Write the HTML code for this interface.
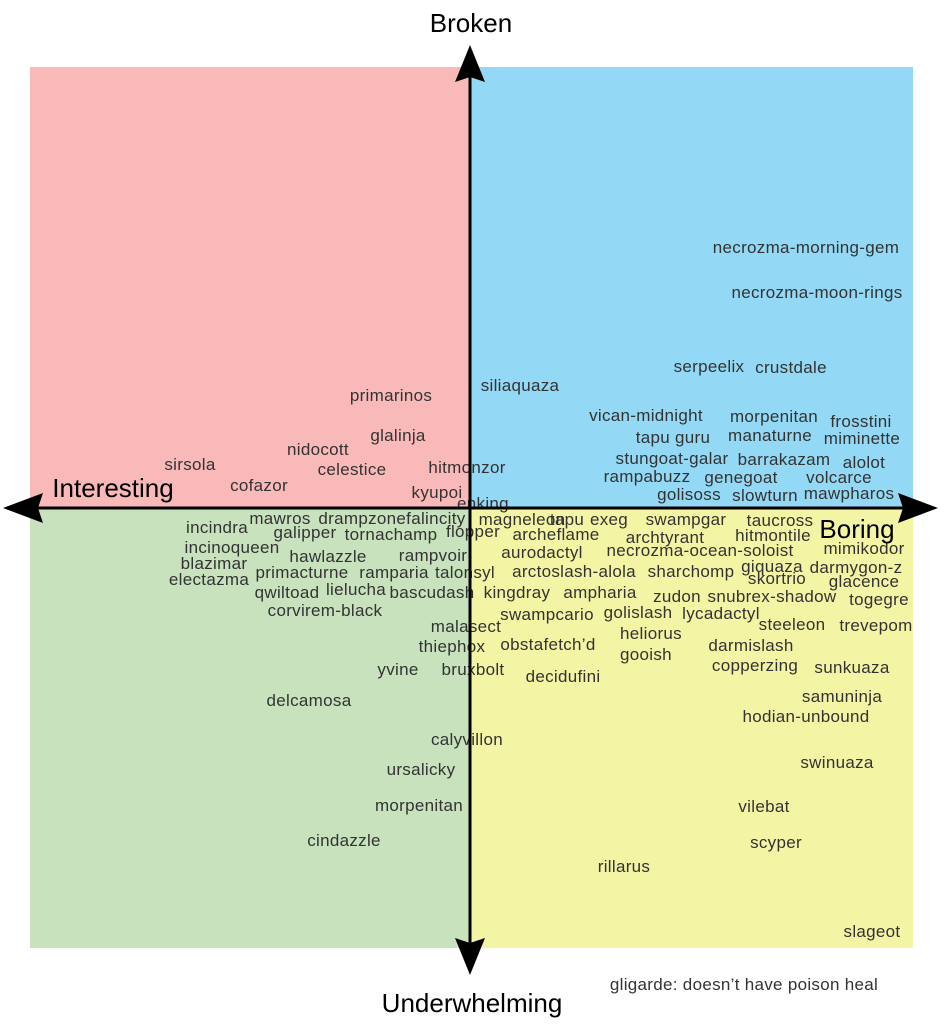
<!DOCTYPE html>
<html><head><meta charset="utf-8"><style>
html,body{margin:0;padding:0;background:#fff}
svg{display:block}
.l{font-family:"Liberation Sans",sans-serif;font-size:17px;fill:#333;text-anchor:middle;letter-spacing:0.3px}
.a{font-family:"Liberation Sans",sans-serif;font-size:26px;fill:#000;text-anchor:middle}
</style></head><body>
<svg width="941" height="1024" viewBox="0 0 941 1024" xmlns="http://www.w3.org/2000/svg">
<rect x="30" y="67" width="440" height="441" fill="#f8b9b8"/>
<rect x="470" y="67" width="443" height="441" fill="#93d8f5"/>
<rect x="30" y="508" width="440" height="440" fill="#c7e2bc"/>
<rect x="470" y="508" width="443" height="440" fill="#f4f4a5"/>
<g class="l">
<text x="806" y="253">necrozma-morning-gem</text>
<text x="817" y="298">necrozma-moon-rings</text>
<text x="709" y="372">serpeelix</text>
<text x="791" y="373">crustdale</text>
<text x="520" y="391">siliaquaza</text>
<text x="391" y="401">primarinos</text>
<text x="646" y="421">vican-midnight</text>
<text x="774" y="422">morpenitan</text>
<text x="861" y="427">frosstini</text>
<text x="673" y="443">tapu guru</text>
<text x="770" y="441">manaturne</text>
<text x="862" y="444">miminette</text>
<text x="398" y="441">glalinja</text>
<text x="318" y="455">nidocott</text>
<text x="672" y="464">stungoat-galar</text>
<text x="784" y="465">barrakazam</text>
<text x="864" y="468">alolot</text>
<text x="190" y="470">sirsola</text>
<text x="352" y="475">celestice</text>
<text x="467" y="473">hitmonzor</text>
<text x="647" y="482">rampabuzz</text>
<text x="741" y="483">genegoat</text>
<text x="839" y="483">volcarce</text>
<text x="259" y="491">cofazor</text>
<text x="437" y="498">kyupoi</text>
<text x="689" y="500">golisoss</text>
<text x="765" y="501">slowturn</text>
<text x="849" y="499">mawpharos</text>
<text x="483" y="509">enking</text>
<text x="522" y="525">magneleon</text>
<text x="567" y="525">tapu</text>
<text x="609" y="525">exeg</text>
<text x="686" y="525">swampgar</text>
<text x="780" y="526">taucross</text>
<text x="217" y="533">incindra</text>
<text x="280" y="524">mawros</text>
<text x="392" y="524">drampzonefalincity</text>
<text x="305" y="538">galipper</text>
<text x="391" y="540">tornachamp</text>
<text x="473" y="537">flopper</text>
<text x="556" y="540">archeflame</text>
<text x="665" y="543">archtyrant</text>
<text x="773" y="541">hitmontile</text>
<text x="232" y="553">incinoqueen</text>
<text x="328" y="562">hawlazzle</text>
<text x="433" y="561">rampvoir</text>
<text x="542" y="558">aurodactyl</text>
<text x="700" y="556">necrozma-ocean-soloist</text>
<text x="864" y="554">mimikodor</text>
<text x="214" y="569">blazimar</text>
<text x="302" y="578">primacturne</text>
<text x="394" y="578">ramparia</text>
<text x="465" y="578">talonsyl</text>
<text x="574" y="577">arctoslash-alola</text>
<text x="691" y="577">sharchomp</text>
<text x="772" y="572">giquaza</text>
<text x="856" y="573">darmygon-z</text>
<text x="777" y="584">skortrio</text>
<text x="864" y="587">glacence</text>
<text x="209" y="585">electazma</text>
<text x="287" y="598">qwiltoad</text>
<text x="356" y="595">lielucha</text>
<text x="432" y="598">bascudash</text>
<text x="517" y="598">kingdray</text>
<text x="600" y="598">ampharia</text>
<text x="677" y="602">zudon</text>
<text x="772" y="602">snubrex-shadow</text>
<text x="879" y="605">togegre</text>
<text x="325" y="616">corvirem-black</text>
<text x="547" y="620">swampcario</text>
<text x="638" y="618">golislash</text>
<text x="721" y="619">lycadactyl</text>
<text x="792" y="630">steeleon</text>
<text x="876" y="631">trevepom</text>
<text x="466" y="632">malasect</text>
<text x="651" y="639">heliorus</text>
<text x="452" y="652">thiephox</text>
<text x="548" y="650">obstafetch’d</text>
<text x="751" y="651">darmislash</text>
<text x="646" y="660">gooish</text>
<text x="398" y="675">yvine</text>
<text x="473" y="675">bruxbolt</text>
<text x="563" y="682">decidufini</text>
<text x="755" y="671">copperzing</text>
<text x="852" y="673">sunkuaza</text>
<text x="309" y="706">delcamosa</text>
<text x="842" y="702">samuninja</text>
<text x="806" y="722">hodian-unbound</text>
<text x="467" y="745">calyvillon</text>
<text x="837" y="768">swinuaza</text>
<text x="421" y="775">ursalicky</text>
<text x="764" y="812">vilebat</text>
<text x="419" y="811">morpenitan</text>
<text x="776" y="848">scyper</text>
<text x="344" y="846">cindazzle</text>
<text x="624" y="872">rillarus</text>
<text x="872" y="937">slageot</text>
<text x="744" y="990">gligarde: doesn’t have poison heal</text>
</g>
<line x1="35" y1="508" x2="908" y2="508" stroke="#000" stroke-width="3"/>
<line x1="470" y1="75" x2="470" y2="945" stroke="#000" stroke-width="3"/>
<polygon points="3,508 43,493 38,508 43,523" fill="#000"/>
<polygon points="938,508 898,493 903,508 898,523" fill="#000"/>
<polygon points="470,45 455,82 470,77 485,82" fill="#000"/>
<polygon points="470,975 455,938 470,943 485,938" fill="#000"/>
<g class="a">
<text x="471" y="32">Broken</text>
<text x="113" y="497">Interesting</text>
<text x="857" y="538">Boring</text>
<text x="472" y="1012">Underwhelming</text>
</g>
</svg>
</body></html>
